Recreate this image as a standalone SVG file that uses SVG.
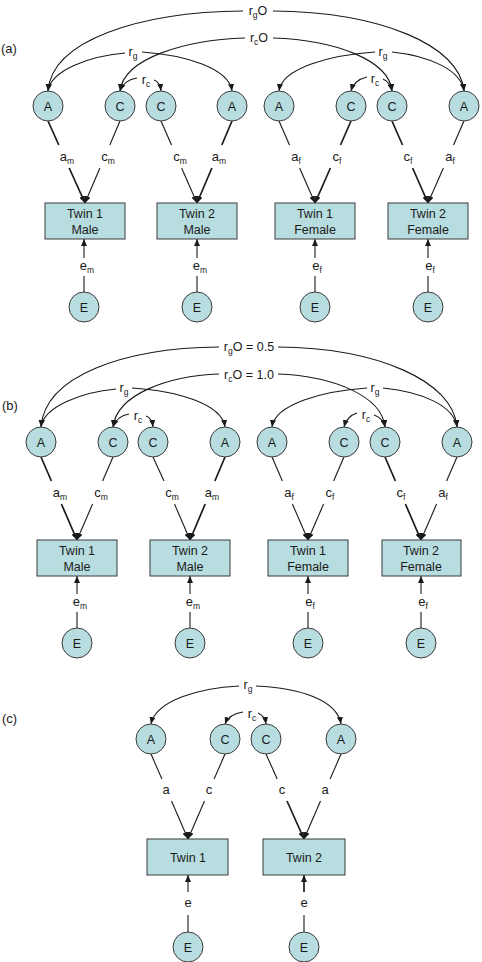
<svg xmlns="http://www.w3.org/2000/svg" width="482" height="962" viewBox="0 0 482 962">
<defs>
<style>
text { font-family: "Liberation Sans", Arial, sans-serif; fill: #1a1a1a; text-anchor: middle; }
.t { font-size: 12.5px; }
.pl { font-size: 13px; text-anchor: start; }
.lab { font-size: 13px; }
.sub { font-size: 8.5px; }
.nd circle, .nd rect { fill: #b8dde0; stroke: #3a3a3a; stroke-width: 1; }
.cn path, .cn line { fill: none; stroke: #1a1a1a; stroke-width: 1.1; }
.cn .k { stroke-width: 1.7; }
.cn .ar { marker-end: url(#ah); }
</style>
<marker id="ah" markerUnits="userSpaceOnUse" markerWidth="8" markerHeight="6" refX="7" refY="3" orient="auto">
<path d="M0,0 L7,3 L0,6 z" fill="#1a1a1a"/>
</marker>
</defs>
<rect width="482" height="962" fill="#ffffff"/>

<text class="pl" x="1" y="53">(a)</text>
<text class="pl" x="2" y="410">(b)</text>
<text class="pl" x="2" y="723">(c)</text>

<!-- Panel (a) -->
<g id="panel-a">
<g class="cn" id="connectors-a">
<path class="ar" d="M 243 11 C 140 12, 52 40, 48 91"/>
<path class="ar" d="M 273 11 C 380 12, 460 45, 464 91"/>
<path class="ar" d="M 245 38 C 185 40, 124 58, 120 91"/>
<path class="ar" d="M 273 38 C 335 40, 389 60, 392 91"/>
<path class="ar" d="M 125 53 C 90 56, 51 70, 48 91"/>
<path class="ar" d="M 142 52 C 185 55, 229 68, 232 91"/>
<path class="ar" d="M 375 52 C 330 55, 282 68, 279 91"/>
<path class="ar" d="M 392 52 C 430 56, 461 70, 464 91"/>
<path class="ar" d="M 137 78 Q 124 80, 120 91"/>
<path class="ar" d="M 154 80 Q 160 82, 161 91"/>
<path class="ar" d="M 367 77 Q 354 80, 351 91"/>
<path class="ar" d="M 383 79 Q 390 82, 392 91"/>
<line class="k" x1="48" y1="121" x2="58.8" y2="145"/><line class="ar k" x1="69.2" y1="168" x2="85" y2="203"/>
<line x1="120" y1="121" x2="109.8" y2="145"/><line class="ar" x1="99.9" y1="168" x2="85" y2="203"/>
<line x1="161" y1="121" x2="171.5" y2="145"/><line class="ar" x1="181.6" y1="168" x2="197" y2="203"/>
<line class="k" x1="232" y1="121" x2="221.8" y2="145"/><line class="ar k" x1="211.9" y1="168" x2="197" y2="203"/>
<line x1="279" y1="121" x2="289.5" y2="145"/><line class="ar" x1="299.6" y1="168" x2="315" y2="203"/>
<line class="k" x1="351" y1="121" x2="340.5" y2="145"/><line class="ar k" x1="330.4" y1="168" x2="315" y2="203"/>
<line class="k" x1="392" y1="121" x2="402.5" y2="145"/><line class="ar k" x1="412.6" y1="168" x2="428" y2="203"/>
<line x1="464" y1="121" x2="453.5" y2="145"/><line class="ar" x1="443.4" y1="168" x2="428" y2="203"/>
<line x1="84" y1="292" x2="84" y2="276"/><line class="ar" x1="84" y1="258" x2="84" y2="239"/>
<line x1="197" y1="292" x2="197" y2="276"/><line class="ar" x1="197" y1="258" x2="197" y2="239"/>
<line x1="315" y1="292" x2="315" y2="276"/><line class="ar" x1="315" y1="258" x2="315" y2="239"/>
<line x1="428" y1="292" x2="428" y2="276"/><line class="ar" x1="428" y1="258" x2="428" y2="239"/>
<text class="t" x="258" y="15">r<tspan class="sub" dy="3">g</tspan><tspan dy="-3">O</tspan></text>
<text class="t" x="259" y="42">r<tspan class="sub" dy="3">c</tspan><tspan dy="-3">O</tspan></text>
<text class="t" x="133" y="56">r<tspan class="sub" dy="3">g</tspan></text>
<text class="t" x="383" y="56">r<tspan class="sub" dy="3">g</tspan></text>
<text class="t" x="146" y="84">r<tspan class="sub" dy="3">c</tspan></text>
<text class="t" x="375" y="83">r<tspan class="sub" dy="3">c</tspan></text>
<text class="lab" x="67" y="161">a<tspan class="sub" dy="3">m</tspan></text>
<text class="lab" x="108" y="161">c<tspan class="sub" dy="3">m</tspan></text>
<text class="lab" x="180" y="161">c<tspan class="sub" dy="3">m</tspan></text>
<text class="lab" x="219" y="161">a<tspan class="sub" dy="3">m</tspan></text>
<text class="lab" x="296" y="161">a<tspan class="sub" dy="3">f</tspan></text>
<text class="lab" x="337" y="161">c<tspan class="sub" dy="3">f</tspan></text>
<text class="lab" x="408" y="161">c<tspan class="sub" dy="3">f</tspan></text>
<text class="lab" x="450" y="161">a<tspan class="sub" dy="3">f</tspan></text>
<text class="lab" x="87" y="270">e<tspan class="sub" dy="3">m</tspan></text>
<text class="lab" x="200" y="270">e<tspan class="sub" dy="3">m</tspan></text>
<text class="lab" x="317" y="270">e<tspan class="sub" dy="3">f</tspan></text>
<text class="lab" x="430" y="270">e<tspan class="sub" dy="3">f</tspan></text>
</g>
<g class="nd" id="a-A1"><circle cx="48" cy="106" r="15"/><text class="t" x="48" y="110.5">A</text></g>
<g class="nd" id="a-C1"><circle cx="120" cy="106" r="15"/><text class="t" x="120" y="110.5">C</text></g>
<g class="nd" id="a-C2"><circle cx="161" cy="106" r="15"/><text class="t" x="161" y="110.5">C</text></g>
<g class="nd" id="a-A2"><circle cx="232" cy="106" r="15"/><text class="t" x="232" y="110.5">A</text></g>
<g class="nd" id="a-A3"><circle cx="279" cy="106" r="15"/><text class="t" x="279" y="110.5">A</text></g>
<g class="nd" id="a-C3"><circle cx="351" cy="106" r="15"/><text class="t" x="351" y="110.5">C</text></g>
<g class="nd" id="a-C4"><circle cx="392" cy="106" r="15"/><text class="t" x="392" y="110.5">C</text></g>
<g class="nd" id="a-A4"><circle cx="464" cy="106" r="15"/><text class="t" x="464" y="110.5">A</text></g>
<g class="nd" id="a-T1M"><rect x="45" y="203" width="80" height="36"/><text class="t" x="85" y="218">Twin 1</text><text class="t" x="85" y="234">Male</text></g>
<g class="nd" id="a-T2M"><rect x="157" y="203" width="80" height="36"/><text class="t" x="197" y="218">Twin 2</text><text class="t" x="197" y="234">Male</text></g>
<g class="nd" id="a-T1F"><rect x="275" y="203" width="80" height="36"/><text class="t" x="315" y="218">Twin 1</text><text class="t" x="315" y="234">Female</text></g>
<g class="nd" id="a-T2F"><rect x="388" y="203" width="80" height="36"/><text class="t" x="428" y="218">Twin 2</text><text class="t" x="428" y="234">Female</text></g>
<g class="nd" id="a-E1"><circle cx="84" cy="307" r="15"/><text class="t" x="84" y="311.5">E</text></g>
<g class="nd" id="a-E2"><circle cx="197" cy="307" r="15"/><text class="t" x="197" y="311.5">E</text></g>
<g class="nd" id="a-E3"><circle cx="315" cy="307" r="15"/><text class="t" x="315" y="311.5">E</text></g>
<g class="nd" id="a-E4"><circle cx="428" cy="307" r="15"/><text class="t" x="428" y="311.5">E</text></g>
</g>

<!-- Panel (b) -->
<g id="panel-b" transform="translate(-7,336)">
<g class="cn" id="connectors-b">
<path class="ar" d="M 226 11 C 130 12, 52 40, 48 91"/>
<path class="ar" d="M 285 11 C 385 12, 460 45, 464 91"/>
<path class="ar" d="M 226 38 C 175 40, 124 58, 120 91"/>
<path class="ar" d="M 285 38 C 340 40, 389 60, 392 91"/>
<path class="ar" d="M 123 53 C 90 56, 51 70, 48 91"/>
<path class="ar" d="M 139 52 C 185 55, 229 68, 232 91"/>
<path class="ar" d="M 374 52 C 330 55, 282 68, 279 91"/>
<path class="ar" d="M 390 52 C 430 56, 461 70, 464 91"/>
<path class="ar" d="M 136 78 Q 124 80, 120 91"/>
<path class="ar" d="M 153 80 Q 159 82, 160 91"/>
<path class="ar" d="M 364 77 Q 354 80, 351 91"/>
<path class="ar" d="M 381 79 Q 390 82, 392 91"/>
<line class="k" x1="48" y1="121" x2="58.4" y2="145"/><line class="ar k" x1="68.4" y1="168" x2="84" y2="204"/>
<line x1="120" y1="121" x2="109.6" y2="145"/><line class="ar" x1="99.6" y1="168" x2="84" y2="204"/>
<line x1="160" y1="121" x2="171" y2="145"/><line class="ar" x1="181.5" y1="168" x2="197" y2="204"/>
<line class="k" x1="232" y1="121" x2="221.9" y2="145"/><line class="ar k" x1="212.2" y1="168" x2="197" y2="204"/>
<line x1="279" y1="121" x2="289.4" y2="145"/><line class="ar" x1="299.4" y1="168" x2="315" y2="204"/>
<line x1="351" y1="121" x2="340.6" y2="145"/><line class="ar" x1="330.6" y1="168" x2="315" y2="204"/>
<line class="k" x1="392" y1="121" x2="402.4" y2="145"/><line class="ar k" x1="412.4" y1="168" x2="428" y2="204"/>
<line x1="464" y1="121" x2="453.6" y2="145"/><line class="ar" x1="443.6" y1="168" x2="428" y2="204"/>
<line x1="84" y1="292" x2="84" y2="276"/><line class="ar" x1="84" y1="258" x2="84" y2="240"/>
<line x1="197" y1="292" x2="197" y2="276"/><line class="ar" x1="197" y1="258" x2="197" y2="240"/>
<line x1="315" y1="292" x2="315" y2="276"/><line class="ar" x1="315" y1="258" x2="315" y2="240"/>
<line x1="428" y1="292" x2="428" y2="276"/><line class="ar" x1="428" y1="258" x2="428" y2="240"/>
<text class="t" x="256" y="15">r<tspan class="sub" dy="3">g</tspan><tspan dy="-3">O = 0.5</tspan></text>
<text class="t" x="256" y="43">r<tspan class="sub" dy="3">c</tspan><tspan dy="-3">O = 1.0</tspan></text>
<text class="t" x="131" y="56">r<tspan class="sub" dy="3">g</tspan></text>
<text class="t" x="382" y="56">r<tspan class="sub" dy="3">g</tspan></text>
<text class="t" x="145" y="84">r<tspan class="sub" dy="3">c</tspan></text>
<text class="t" x="373" y="83">r<tspan class="sub" dy="3">c</tspan></text>
<text class="lab" x="67" y="161">a<tspan class="sub" dy="3">m</tspan></text>
<text class="lab" x="108" y="161">c<tspan class="sub" dy="3">m</tspan></text>
<text class="lab" x="179" y="161">c<tspan class="sub" dy="3">m</tspan></text>
<text class="lab" x="219" y="161">a<tspan class="sub" dy="3">m</tspan></text>
<text class="lab" x="296" y="161">a<tspan class="sub" dy="3">f</tspan></text>
<text class="lab" x="337" y="161">c<tspan class="sub" dy="3">f</tspan></text>
<text class="lab" x="408" y="161">c<tspan class="sub" dy="3">f</tspan></text>
<text class="lab" x="450" y="161">a<tspan class="sub" dy="3">f</tspan></text>
<text class="lab" x="87" y="270">e<tspan class="sub" dy="3">m</tspan></text>
<text class="lab" x="200" y="270">e<tspan class="sub" dy="3">m</tspan></text>
<text class="lab" x="317" y="270">e<tspan class="sub" dy="3">f</tspan></text>
<text class="lab" x="430" y="270">e<tspan class="sub" dy="3">f</tspan></text>
</g>
<g class="nd" id="b-A1"><circle cx="48" cy="106" r="15"/><text class="t" x="48" y="110.5">A</text></g>
<g class="nd" id="b-C1"><circle cx="120" cy="106" r="15"/><text class="t" x="120" y="110.5">C</text></g>
<g class="nd" id="b-C2"><circle cx="160" cy="106" r="15"/><text class="t" x="160" y="110.5">C</text></g>
<g class="nd" id="b-A2"><circle cx="232" cy="106" r="15"/><text class="t" x="232" y="110.5">A</text></g>
<g class="nd" id="b-A3"><circle cx="279" cy="106" r="15"/><text class="t" x="279" y="110.5">A</text></g>
<g class="nd" id="b-C3"><circle cx="351" cy="106" r="15"/><text class="t" x="351" y="110.5">C</text></g>
<g class="nd" id="b-C4"><circle cx="392" cy="106" r="15"/><text class="t" x="392" y="110.5">C</text></g>
<g class="nd" id="b-A4"><circle cx="464" cy="106" r="15"/><text class="t" x="464" y="110.5">A</text></g>
<g class="nd" id="b-T1M"><rect x="44" y="204" width="80" height="36"/><text class="t" x="84" y="219">Twin 1</text><text class="t" x="84" y="235">Male</text></g>
<g class="nd" id="b-T2M"><rect x="157" y="204" width="80" height="36"/><text class="t" x="197" y="219">Twin 2</text><text class="t" x="197" y="235">Male</text></g>
<g class="nd" id="b-T1F"><rect x="275" y="204" width="80" height="36"/><text class="t" x="315" y="219">Twin 1</text><text class="t" x="315" y="235">Female</text></g>
<g class="nd" id="b-T2F"><rect x="389" y="204" width="79" height="36"/><text class="t" x="428" y="219">Twin 2</text><text class="t" x="428" y="235">Female</text></g>
<g class="nd" id="b-E1"><circle cx="84" cy="307" r="15"/><text class="t" x="84" y="311.5">E</text></g>
<g class="nd" id="b-E2"><circle cx="197" cy="307" r="15"/><text class="t" x="197" y="311.5">E</text></g>
<g class="nd" id="b-E3"><circle cx="315" cy="307" r="15"/><text class="t" x="315" y="311.5">E</text></g>
<g class="nd" id="b-E4"><circle cx="428" cy="307" r="15"/><text class="t" x="428" y="311.5">E</text></g>
</g>

<!-- Panel (c) -->
<g id="panel-c">
<g class="cn" id="connectors-c">
<path class="ar" d="M 239 686 C 200 688, 156 700, 151 724"/>
<path class="ar" d="M 256 686 C 300 688, 337 700, 341 724"/>
<path class="ar" d="M 243 712 Q 229 714, 225 724"/>
<path class="ar" d="M 258 713 Q 265 716, 266 724"/>
<line x1="151" y1="754" x2="161.9" y2="779"/><line class="ar" x1="171.5" y1="801" x2="188" y2="839"/>
<line x1="225" y1="754" x2="214.1" y2="779"/><line class="ar" x1="204.5" y1="801" x2="188" y2="839"/>
<line x1="266" y1="754" x2="277.2" y2="779"/><line class="ar k" x1="287" y1="801" x2="304" y2="839"/>
<line x1="341" y1="754" x2="330.1" y2="779"/><line class="ar" x1="320.5" y1="801" x2="304" y2="839"/>
<line x1="188" y1="932" x2="188" y2="915"/><line class="ar" x1="188" y1="892" x2="188" y2="875"/>
<line x1="304" y1="932" x2="304" y2="915"/><line class="ar k" x1="304" y1="892" x2="304" y2="875"/>
<text class="t" x="248" y="689">r<tspan class="sub" dy="3">g</tspan></text>
<text class="t" x="252" y="718">r<tspan class="sub" dy="3">c</tspan></text>
<text class="lab" x="166" y="794">a</text>
<text class="lab" x="209" y="794">c</text>
<text class="lab" x="282" y="794">c</text>
<text class="lab" x="325" y="794">a</text>
<text class="lab" x="188" y="907">e</text>
<text class="lab" x="304" y="907">e</text>
</g>
<g class="nd" id="c-A1"><circle cx="151" cy="739" r="15"/><text class="t" x="151" y="743.5">A</text></g>
<g class="nd" id="c-C1"><circle cx="225" cy="739" r="15"/><text class="t" x="225" y="743.5">C</text></g>
<g class="nd" id="c-C2"><circle cx="266" cy="739" r="15"/><text class="t" x="266" y="743.5">C</text></g>
<g class="nd" id="c-A2"><circle cx="341" cy="739" r="15"/><text class="t" x="341" y="743.5">A</text></g>
<g class="nd" id="c-T1"><rect x="147" y="839" width="81" height="36"/><text class="t" x="188" y="862">Twin 1</text></g>
<g class="nd" id="c-T2"><rect x="263" y="839" width="82" height="36"/><text class="t" x="304" y="862">Twin 2</text></g>
<g class="nd" id="c-E1"><circle cx="188" cy="947" r="15"/><text class="t" x="188" y="951.5">E</text></g>
<g class="nd" id="c-E2"><circle cx="304" cy="947" r="15"/><text class="t" x="304" y="951.5">E</text></g>
</g>
</svg>
